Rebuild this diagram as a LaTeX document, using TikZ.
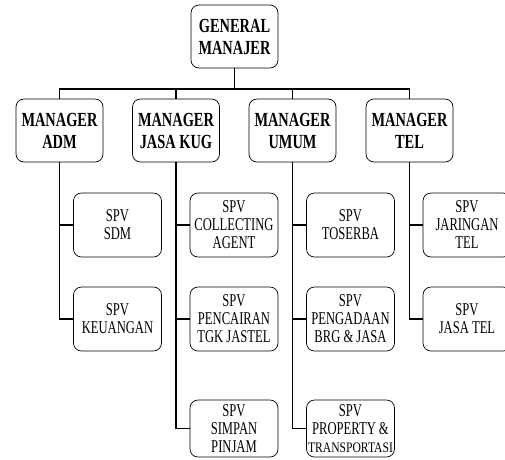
\documentclass[tikz,border=0pt]{standalone}
\usepackage{fontspec}
\setmainfont{Liberation Serif}
\newfontfamily\condfont{Liberation Serif}[FakeStretch=0.7]
\newfontfamily\mgrfont{Liberation Serif}[FakeStretch=0.72]
\newfontfamily\widefont{Liberation Serif}[FakeStretch=0.8]
\tikzset{
  box/.style={draw, rounded corners=8pt, line width=0.7pt, fill=white,
    align=center, inner sep=0pt},
  mgr/.style={box, minimum width=87pt, minimum height=63pt,
    font=\mgrfont\bfseries\fontsize{20}{22}\selectfont},
  spv/.style={box, minimum width=88pt, minimum height=64pt,
    font=\condfont\fontsize{18}{18}\selectfont},
  link/.style={line width=1.8pt},
}
\begin{document}
\begin{tikzpicture}[x=1pt,y=-1pt]
\useasboundingbox (0,0) rectangle (505,459);
\clip (0,0) rectangle (505,459);
% top
\node[mgr] (gm) at (234.5,36.5) {GENERAL\\MANAJER};
\coordinate (bus) at (234.5,89);
% managers
\node[mgr] (adm) at (59.5,130.5) {MANAGER\\ADM};
\node[mgr] (kug) at (176,130.5) {MANAGER\\JASA KUG};
\node[mgr] (umum) at (292.5,130.5) {MANAGER\\UMUM};
\node[mgr] (tel) at (409.5,130.5) {MANAGER\\TEL};
% spv adm
\node[spv] (sdm) at (117.5,225) {SPV\\SDM};
\node[spv] (keu) at (117.5,319) {SPV\\KEUANGAN};
% spv kug
\node[spv] (col) at (234,225) {SPV\\COLLECTING\\AGENT};
\node[spv] (pen) at (234,319) {SPV\\PENCAIRAN\\TGK JASTEL};
\node[spv, minimum height=57pt] (sim) at (234,428.5) {SPV\\SIMPAN\\PINJAM};
% spv umum
\node[spv] (tos) at (350.5,225) {SPV\\TOSERBA};
\node[spv] (pbj) at (350.5,319) {SPV\\PENGADAAN\\BRG \& JASA};
\node[spv, minimum height=57pt] (pro) at (350.5,428.5) {SPV\\PROPERTY \&\\{\widefont\fontsize{14.5}{15}\selectfont TRANSPORTASI}};
% spv tel
\node[spv] (jar) at (467,225) {SPV\\JARINGAN\\TEL};
\node[spv] (jtel) at (467,319) {SPV\\JASA TEL};
% connectors
\draw[link] (gm.south) -- (bus);
\draw[link] (bus) -| (adm.north);
\draw[link] (bus) -| (kug.north);
\draw[link] (bus) -| (umum.north);
\draw[link] (bus) -| (tel.north);
\draw[link] (adm.south) |- (sdm.west);
\draw[link] (adm.south) |- (keu.west);
\draw[link] (kug.south) |- (col.west);
\draw[link] (kug.south) |- (pen.west);
\draw[link] (kug.south) |- (sim.west);
\draw[link] (umum.south) |- (tos.west);
\draw[link] (umum.south) |- (pbj.west);
\draw[link] (umum.south) |- (pro.west);
\draw[link] (tel.south) |- (jar.west);
\draw[link] (tel.south) |- (jtel.west);
\end{tikzpicture}
\end{document}
